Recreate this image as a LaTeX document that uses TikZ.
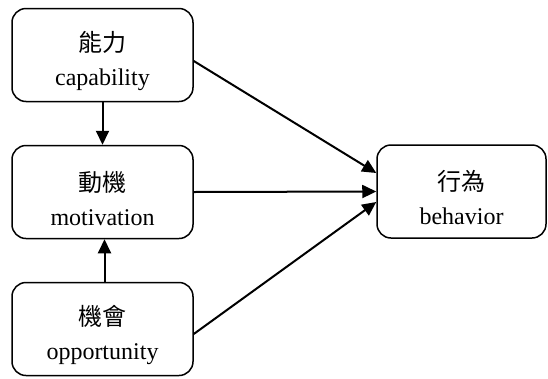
\documentclass[tikz,border=0pt]{standalone}
\usepackage{fontspec}
\setmainfont{Liberation Serif}
\newfontfamily\cjk{Noto Sans CJK TC}
\usetikzlibrary{arrows.meta}
\newcommand{\boxtext}[2]{\rule{0pt}{33pt}{\cjk #1}\\#2}
\begin{document}
\begin{tikzpicture}[x=1pt,y=-1pt,
  box/.style={draw, line width=1.5pt, rounded corners=14pt, align=center,
    minimum width=181pt, minimum height=93pt, inner sep=0pt,
    font=\fontsize{24}{34}\selectfont},
  conn/.style={line width=2pt, -{Triangle[length=14pt,width=13pt]}}]
\useasboundingbox (0,0) rectangle (548,378);
\node[box] (cap) at (102.5,55) {\boxtext{能力}{capability}};
\node[box] (mot) at (102.5,192) {\boxtext{動機}{motivation}};
\node[box] (opp) at (102.5,329) {\boxtext{機會}{opportunity}};
\node[box, minimum width=169pt] (beh) at (461.5,191.5) {\boxtext{行為}{behavior}};
\draw[conn] (cap.south) -- (mot.north);
\draw[conn] ([xshift=2pt]opp.north) -- ([xshift=2pt]mot.south);
\draw[conn] ([yshift=-6pt]cap.east) -- ([yshift=18.5pt]beh.west);
\draw[conn] (mot.east) -- (beh.west);
\draw[conn] ([yshift=-5pt]opp.east) -- ([yshift=-10.5pt]beh.west);
\end{tikzpicture}
\end{document}
